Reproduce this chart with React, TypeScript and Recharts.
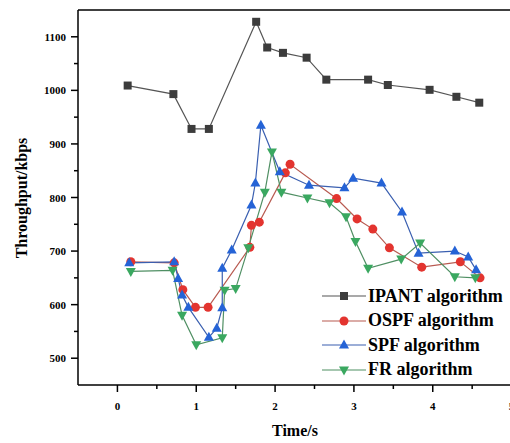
import { Line, LineChart, ReferenceLine, XAxis, YAxis } from "recharts"

// values (time in s, throughput in kbps)
const ipantTime = [0.13, 0.71, 0.94, 1.16, 1.76, 1.9, 2.1, 2.4, 2.65, 3.18, 3.43, 3.96, 4.3, 4.59]
const ipantKbps = [1009, 993, 928, 928, 1128, 1080, 1070, 1061, 1020, 1020, 1010, 1001, 988, 977]

const ospfTime = [0.17, 0.72, 0.83, 0.99, 1.15, 1.68, 1.7, 1.8, 2.13, 2.19, 2.78, 3.04, 3.24, 3.45, 3.86, 4.35, 4.6]
const ospfKbps = [680, 678, 628, 595, 595, 707, 748, 754, 846, 862, 798, 760, 741, 706, 670, 680, 650]

const spfTime = [0.15, 0.72, 0.77, 0.82, 0.9, 1.16, 1.26, 1.33, 1.33, 1.45, 1.7, 1.75, 1.82, 2.06, 2.43, 2.88, 2.99, 3.35, 3.61, 3.82, 4.28, 4.45, 4.55]
const spfKbps = [678, 680, 649, 618, 595, 539, 556, 594, 668, 702, 786, 827, 935, 848, 823, 818, 836, 827, 773, 696, 700, 689, 665]

const frTime = [0.17, 0.7, 0.82, 1.0, 1.33, 1.36, 1.5, 1.66, 1.87, 1.96, 2.08, 2.41, 2.69, 2.9, 3.02, 3.18, 3.6, 3.84, 4.28, 4.54]
const frKbps = [662, 664, 580, 525, 538, 627, 630, 706, 810, 885, 810, 799, 790, 764, 718, 668, 685, 715, 652, 650]

const xTicks = [0, 0.5, 1, 1.5, 2, 2.5, 3, 3.5, 4, 4.5, 5]
const yTicks = [500, 550, 600, 650, 700, 750, 800, 850, 900, 950, 1000, 1050, 1100]

const zip = (xs: number[], ys: number[]) => xs.map((x, i) => ({ x, y: ys[i] }))

const FONT = "'Liberation Serif', 'Times New Roman', serif"

type Shape = "square" | "circle" | "up" | "down"

function marker(shape: Shape, cx: number, cy: number, fill: string, key?: string | number) {
  if (shape === "square") return <rect key={key} x={cx - 4} y={cy - 4} width={8} height={8} fill={fill} />
  if (shape === "circle") return <circle key={key} cx={cx} cy={cy} r={4.5} fill={fill} />
  const d =
    shape === "up"
      ? `M${cx},${cy - 5.5}L${cx + 5},${cy + 3.5}L${cx - 5},${cy + 3.5}Z`
      : `M${cx},${cy + 5.5}L${cx + 5},${cy - 3.5}L${cx - 5},${cy - 3.5}Z`
  return <path key={key} d={d} fill={fill} />
}

const series = [
  { name: "IPANT algorithm", data: zip(ipantTime, ipantKbps), line: "#555555", fill: "#3c3c3c", shape: "square" as Shape },
  { name: "OSPF algorithm", data: zip(ospfTime, ospfKbps), line: "#b85a50", fill: "#e3342f", shape: "circle" as Shape },
  { name: "SPF algorithm", data: zip(spfTime, spfKbps), line: "#3a5fb0", fill: "#2563d6", shape: "up" as Shape },
  { name: "FR algorithm", data: zip(frTime, frKbps), line: "#4f8f63", fill: "#3aa860", shape: "down" as Shape },
]

function YTick({ x, y, payload }: any) {
  const major = payload.value % 100 === 0
  return (
    <g>
      <line x1={x} x2={x - (major ? 7 : 4)} y1={y} y2={y} stroke="#000" strokeWidth={1.5} />
      {major && (
        <text x={x - 12} y={y + 4} textAnchor="end" fontSize={11} fontWeight="bold" fontFamily={FONT} fill="#000">
          {payload.value}
        </text>
      )}
    </g>
  )
}

function XTick({ x, y, payload }: any) {
  const major = payload.value % 1 === 0
  return (
    <g>
      <line x1={x} x2={x} y1={y} y2={y + (major ? 7 : 4)} stroke="#000" strokeWidth={1.5} />
      {major && (
        <text x={x} y={y + 25} textAnchor="middle" fontSize={11} fontWeight="bold" fontFamily={FONT} fill="#000">
          {payload.value}
        </text>
      )}
    </g>
  )
}

export default function App() {
  return (
    <div style={{ position: "fixed", left: 0, top: 0, width: 510, height: 443, overflow: "hidden", background: "#fff" }}>
      <LineChart width={560} height={443} margin={{ top: 10, right: 9, left: 0, bottom: 0 }}>
        <XAxis
          dataKey="x"
          type="number"
          domain={[-0.5, 5.5]}
          ticks={xTicks}
          tick={<XTick />}
          tickSize={0}
          tickMargin={0}
          height={58}
          axisLine={{ stroke: "#000", strokeWidth: 1.5 }}
          allowDuplicatedCategory={false}
        />
        <YAxis
          dataKey="y"
          type="number"
          domain={[450, 1150]}
          ticks={yTicks}
          tick={<YTick />}
          tickSize={0}
          tickMargin={0}
          width={78}
          axisLine={{ stroke: "#000", strokeWidth: 1.5 }}
        />
        <ReferenceLine y={1150} stroke="#000" strokeWidth={1.5} />
        <ReferenceLine x={5.5} stroke="#000" strokeWidth={1.5} />
        {series.map((s) => (
          <Line
            key={s.name}
            data={s.data}
            dataKey="y"
            name={s.name}
            stroke={s.line}
            strokeWidth={1.2}
            dot={(p: any) => marker(s.shape, p.cx, p.cy, s.fill, p.index)}
            isAnimationActive={false}
          />
        ))}
      </LineChart>

      <div
        style={{
          position: "absolute",
          left: 4,
          top: 198,
          transform: "translate(-50%, -50%) rotate(-90deg)",
          marginLeft: 18,
          fontFamily: FONT,
          fontWeight: "bold",
          fontSize: 16,
          whiteSpace: "nowrap",
        }}
      >
        Throughput/kbps
      </div>
      <div
        style={{
          position: "absolute",
          left: 295,
          top: 422,
          transform: "translateX(-50%)",
          fontFamily: FONT,
          fontWeight: "bold",
          fontSize: 16,
          whiteSpace: "nowrap",
        }}
      >
        Time/s
      </div>

      <div style={{ position: "absolute", left: 322, top: 284, fontFamily: FONT, fontWeight: "bold", fontSize: 18 }}>
        {series.map((s) => (
          <div key={s.name} style={{ display: "flex", alignItems: "center", height: 24.5, whiteSpace: "nowrap" }}>
            <svg width={44} height={14} style={{ marginRight: 2 }}>
              <line x1={0} x2={44} y1={7} y2={7} stroke={s.line} strokeWidth={1.2} />
              {marker(s.shape, 22, 7, s.fill)}
            </svg>
            <span>{s.name}</span>
          </div>
        ))}
      </div>
    </div>
  )
}
